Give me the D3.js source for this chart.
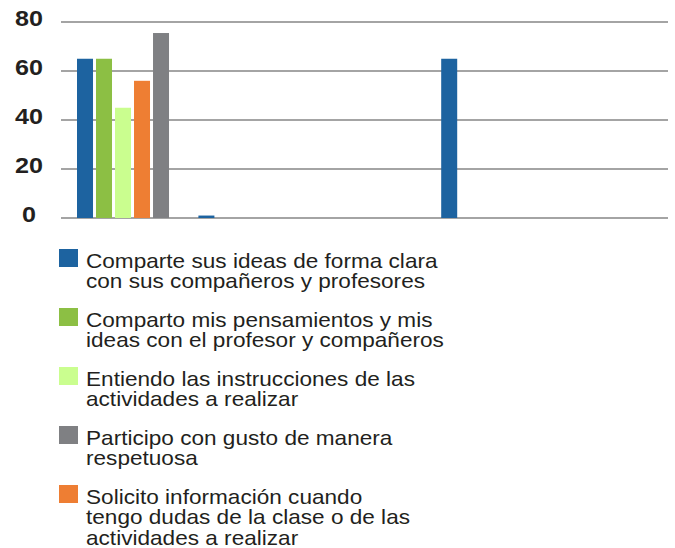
<!DOCTYPE html>
<html>
<head>
<meta charset="utf-8">
<script src="https://cdn.jsdelivr.net/npm/d3@7"></script>
<style>
  html, body { margin: 0; padding: 0; background: #fff; }
  svg { display: block; }
</style>
</head>
<body>
<svg id="chart" width="675" height="548"></svg>
<script>
// ---- data ----
const categories = ["1", "2", "3", "4", "5"];
const seriesNames = [
  "Comparte sus ideas de forma clara con sus compañeros y profesores",
  "Comparto mis pensamientos y mis ideas con el profesor y compañeros",
  "Entiendo las instrucciones de las actividades a realizar",
  "Solicito información cuando tengo dudas de la clase o de las actividades a realizar",
  "Participo con gusto de manera respetuosa"
];
const seriesColors = ["#1d63a0", "#8cbf44", "#cafe8f", "#ee7e33", "#7f8083"];
const valuesComparte  = [65, 1, 0, 65, 0];
const valuesComparto  = [65, 0, 0, 0, 0];
const valuesEntiendo  = [45, 0, 0, 0, 0];
const valuesSolicito  = [56, 0, 0, 0, 0];
const valuesParticipo = [75.5, 0, 0, 0, 0];
const yTicks = [0, 20, 40, 60, 80];

// legend (order as shown) with line breaks
const legendOrder = [0, 1, 2, 4, 3];
const legendLines = [
  ["Comparte sus ideas de forma clara", "con sus compañeros y profesores"],
  ["Comparto mis pensamientos y mis", "ideas con el profesor y compañeros"],
  ["Entiendo las instrucciones de las", "actividades a realizar"],
  ["Solicito información cuando", "tengo dudas de la clase o de las", "actividades a realizar"],
  ["Participo con gusto de manera", "respetuosa"]
];

const seriesValues = [valuesComparte, valuesComparto, valuesEntiendo, valuesSolicito, valuesParticipo];

// ---- layout ----
const svg = d3.select("#chart");
const plotLeft = 61, plotRight = 668, plotTop = 22, plotBottom = 218;

const y = d3.scaleLinear().domain([0, 80]).range([plotBottom, plotTop]);
const x0 = d3.scaleBand().domain(categories).range([plotLeft, plotRight]).padding(0);
const bw = x0.bandwidth();
const x1 = d3.scaleBand().domain(d3.range(seriesValues.length))
  .range([bw * 0.1318, bw * 0.8898]).paddingInner(3 / 19).paddingOuter(0);

// gridlines
svg.append("g").selectAll("line").data(yTicks).join("line")
  .attr("x1", plotLeft).attr("x2", plotRight)
  .attr("y1", d => y(d)).attr("y2", d => y(d))
  .attr("stroke", "#a4a4a4").attr("stroke-width", 2);

// y labels
svg.append("g").selectAll("g").data(yTicks).join("g")
  .attr("transform", d => `translate(29,${y(d) + 4.2}) scale(1.17,1)`)
  .append("text")
  .attr("text-anchor", "middle")
  .attr("font-family", "'Liberation Sans', Arial, Helvetica, sans-serif")
  .attr("font-weight", "bold")
  .attr("font-size", 21.5)
  .attr("fill", "#231f20")
  .text(d => d);

// bars
const barData = [];
seriesValues.forEach((vals, si) => {
  vals.forEach((v, ci) => {
    if (v > 0) barData.push({ si, cat: categories[ci], v });
  });
});
svg.append("g").selectAll("rect").data(barData).join("rect")
  .attr("x", d => x0(d.cat) + x1(d.si))
  .attr("width", x1.bandwidth())
  .attr("y", d => y(d.v))
  .attr("height", d => y(0) - y(d.v))
  .attr("fill", d => seriesColors[d.si]);

// legend
const ly = d3.scaleLinear().domain([0, legendOrder.length - 1]).range([249, 485]);
const leg = svg.append("g").selectAll("g").data(legendOrder).join("g")
  .attr("transform", (d, i) => `translate(59,${ly(i)})`);
leg.append("rect")
  .attr("width", 19).attr("height", 18)
  .attr("fill", d => seriesColors[d]);
const lt = leg.append("g")
  .attr("transform", "translate(27,18.8) scale(1.13,1)")
  .append("text")
  .attr("font-family", "'Liberation Sans', Arial, Helvetica, sans-serif")
  .attr("font-size", 20)
  .attr("fill", "#231f20");
lt.selectAll("tspan").data(d => legendLines[d]).join("tspan")
  .attr("x", 0)
  .attr("y", (d, i) => i * 20.4)
  .text(d => d);
</script>
</body>
</html>
